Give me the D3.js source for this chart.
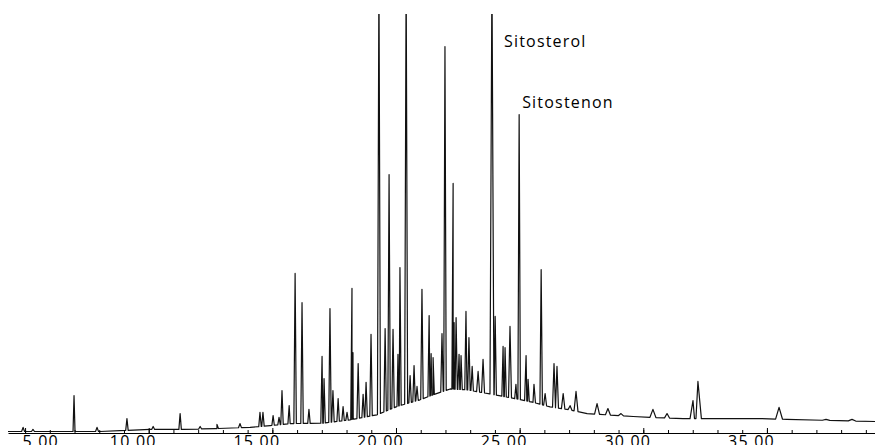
<!DOCTYPE html>
<html>
<head>
<meta charset="utf-8">
<script src="https://cdn.jsdelivr.net/npm/d3@7"></script>
<style>
  body { margin: 0; background: #fff; }
  text { font-family: "Open Sans", sans-serif; fill: #000; }
</style>
</head>
<body>
<svg width="875" height="445"></svg>
<script>
// retention time (min) / abundance (% of full scale)
var baseTimes = [4.31, 6.01, 8.03, 10.05, 11.39, 12.76, 14.10, 14.91, 15.72, 17.05, 18.14, 19.23, 20.04, 20.97, 21.50, 22.19, 22.87, 23.80, 24.89, 25.54, 26.23, 26.92, 27.73, 28.25, 29.59, 30.27, 31.61, 32.82, 34.72, 35.81, 39.37];
var baseHeights = [0, 0, 0, 0.5, 0.5, 0.7, 1.0, 1.4, 1.9, 2.0, 2.8, 4.0, 6.0, 7.6, 8.8, 10.2, 10.0, 9.0, 7.8, 7.0, 5.9, 5.3, 4.3, 4.1, 3.6, 3.4, 3.1, 3.1, 3.1, 2.9, 2.4];

var peakTimes = [4.92, 5.32, 6.98, 7.91, 9.12, 10.18, 11.27, 12.08, 12.76, 13.69, 14.50, 14.62, 15.03, 15.27, 15.39, 15.68, 15.92, 16.20, 16.48, 17.01, 17.09, 17.33, 17.45, 17.66, 17.86, 18.02, 18.22, 18.26, 18.47, 18.67, 18.79, 18.99, 19.31, 19.56, 19.72, 19.88, 20.08, 20.16, 20.41, 20.57, 20.73, 20.85, 21.05, 21.34, 21.42, 21.50, 21.86, 21.98, 22.31, 22.35, 22.43, 22.55, 22.63, 22.83, 22.95, 23.08, 23.32, 23.52, 23.88, 24.01, 24.33, 24.41, 24.61, 24.85, 24.98, 25.26, 25.34, 25.58, 25.87, 26.03, 26.39, 26.51, 26.76, 27.04, 27.28, 28.13, 28.57, 29.10, 30.39, 30.96, 32.01, 32.21, 35.49, 37.39, 38.44];
var peakHeights = [1.0, 0.5, 8.6, 1.0, 3.1, 1.2, 4.3, 1.2, 1.7, 1.9, 4.6, 4.6, 3.8, 3.4, 9.8, 6.2, 37.9, 30.9, 5.3, 18.0, 12.7, 29.5, 9.8, 7.9, 6.0, 4.6, 34.3, 18.9, 16.3, 8.9, 11.8, 23.3, 110, 24.7, 61.6, 24.5, 18.5, 39.3, 110, 13.4, 15.8, 10.8, 34.1, 27.8, 18.7, 17.7, 23.5, 92.3, 59.5, 26.1, 27.3, 18.5, 18.2, 28.8, 22.5, 15.6, 14.4, 17.3, 110, 27.6, 20.4, 20.1, 25.2, 11.3, 76.0, 18.2, 12.5, 11.3, 38.8, 9.1, 16.3, 15.6, 9.1, 6.2, 9.6, 6.7, 5.5, 4.3, 5.3, 4.3, 7.4, 12.0, 5.8, 2.9, 2.9];
var peakWidths = [0.06, 0.06, 0.04, 0.06, 0.05, 0.06, 0.05, 0.06, 0.06, 0.06, 0.05, 0.05, 0.05, 0.05, 0.05, 0.05, 0.05, 0.05, 0.05, 0.05, 0.05, 0.05, 0.05, 0.05, 0.05, 0.05, 0.05, 0.04, 0.05, 0.05, 0.05, 0.05, 0.06, 0.05, 0.05, 0.05, 0.05, 0.05, 0.06, 0.05, 0.05, 0.05, 0.05, 0.05, 0.05, 0.05, 0.05, 0.05, 0.05, 0.04, 0.05, 0.05, 0.05, 0.05, 0.05, 0.05, 0.06, 0.06, 0.09, 0.05, 0.05, 0.05, 0.06, 0.05, 0.05, 0.06, 0.05, 0.06, 0.05, 0.06, 0.06, 0.06, 0.07, 0.08, 0.08, 0.10, 0.10, 0.10, 0.12, 0.10, 0.12, 0.14, 0.14, 0.15, 0.15];

var tickValues = [5, 10, 15, 20, 25, 30, 35];
var tickLabels = ['5.00', '10.00', '15.00', '20.00', '25.00', '30.00', '35.00'];

var labelNames = ['Sitosterol', 'Sitostenon'];
var labelTimes = [23.88, 24.98];
var labelLevels = [92.1, 77.5];

var svg = d3.select('svg'),
  width = +svg.attr('width'),
  height = +svg.attr('height');

var x = d3.scaleLinear().domain([4.31, 39.37]).range([8, width]);
var y = d3.scaleLinear().domain([0, 100]).range([431.5, 14.5]);
var base = d3.scaleLinear().domain(baseTimes).range(baseHeights);

// trace vertices: baseline points plus a foot/apex/foot for every peak
var pts = baseTimes.map(function(t, i) { return [t, baseHeights[i]]; });
peakTimes.forEach(function(t, i) {
  var w = peakWidths[i];
  pts.push([t - w, base(t - w)], [t, peakHeights[i]], [t + w, base(t + w)]);
});
pts.sort(function(a, b) { return a[0] - b[0]; });

svg.append('clipPath').attr('id', 'clip')
  .append('rect').attr('x', 0).attr('y', 14).attr('width', width).attr('height', height - 14);

var line = d3.line()
  .x(function(d) { return x(d[0]); })
  .y(function(d) { return y(d[1]); });

svg.append('path')
  .datum(pts)
  .attr('clip-path', 'url(#clip)')
  .attr('fill', 'none')
  .attr('stroke', '#111')
  .attr('stroke-width', 1.2)
  .attr('stroke-linejoin', 'round')
  .attr('d', line);

// axis: minor ticks every minute, major ticks with labels every 5
var axisY = 433;
svg.append('g')
  .attr('transform', 'translate(0,' + axisY + ')')
  .call(d3.axisBottom(x).tickValues(d3.range(5, 40, 1)).tickSizeInner(-3).tickSizeOuter(0).tickFormat(''))
  .call(function(g) { g.select('.domain').remove(); });

var major = svg.append('g')
  .attr('transform', 'translate(0,' + axisY + ')')
  .call(d3.axisBottom(x).tickValues(tickValues).tickSizeInner(-5).tickSizeOuter(0).tickPadding(3)
    .tickFormat(function(d, i) { return tickLabels[i]; }));
major.select('.domain').attr('stroke-width', 1.2);
major.selectAll('text')
  .attr('font-family', '"Open Sans", sans-serif')
  .attr('font-size', 16)
  .attr('letter-spacing', 1.2)
  .attr('dx', -16)
  .each(function(d) {
    var w = this.getComputedTextLength();
    var left = x(d) - 16 - w / 2;
    if (left < 22) d3.select(this).attr('dx', -16 + (22 - left));
  });

// compound labels
var labelDx = [12, 3];
svg.selectAll('.lbl')
  .data(labelNames)
  .enter()
  .append('text')
  .attr('class', 'lbl')
  .attr('x', function(d, i) { return x(labelTimes[i]) + labelDx[i]; })
  .attr('y', function(d, i) { return y(labelLevels[i]); })
  .attr('font-size', 16)
  .attr('letter-spacing', 1.2)
  .text(function(d) { return d; });
</script>
</body>
</html>
